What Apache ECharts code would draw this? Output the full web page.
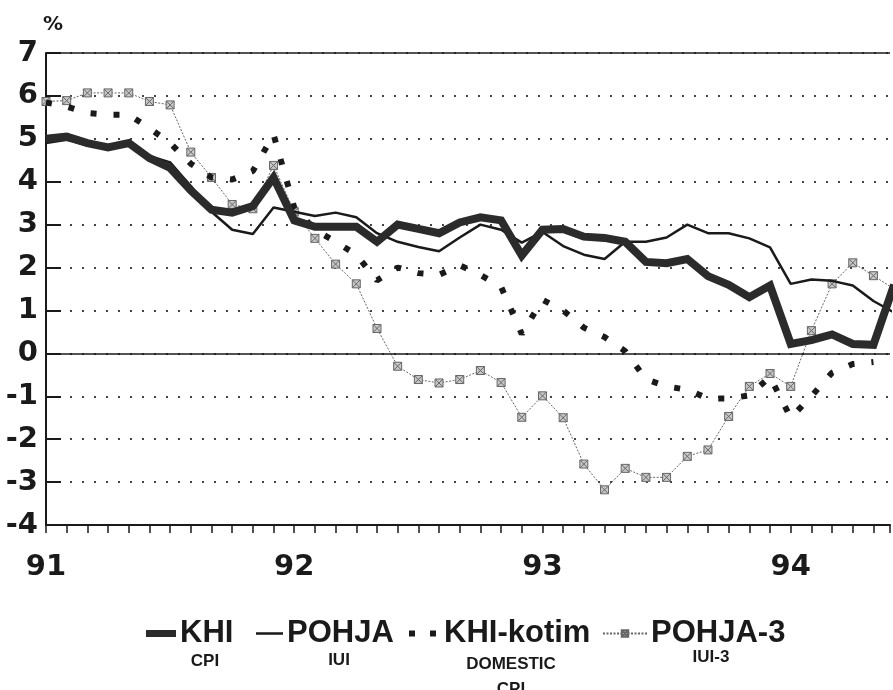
<!DOCTYPE html>
<html>
<head>
<meta charset="utf-8">
<title>KHI / POHJA</title>
<script src="https://cdn.jsdelivr.net/npm/echarts@6/dist/echarts.min.js"></script>
<style>
  html, body { margin: 0; padding: 0; background: #fff; }
  #chart_container { width: 893px; height: 690px; }
</style>
</head>
<body>
<div id="chart_container"></div>
<script>
  // kuukausittain, indeksi 0 = 1/91
  const yearLabels = ['91', '92', '93', '94']
  const seriesNames = ['KHI', 'POHJA', 'KHI-kotim', 'POHJA-3']
  const seriesNotes = ['CPI', 'IUI', 'DOMESTIC\nCPI', 'IUI-3']

  const khi = [5.0, 5.05, 4.9, 4.8, 4.9, 4.55, 4.32, 3.8, 3.35, 3.28, 3.43, 4.1,
    3.1, 2.95, 2.95, 2.95, 2.6, 3.0, 2.9, 2.8, 3.05, 3.17, 3.1, 2.28,
    2.88, 2.9, 2.72, 2.69, 2.6, 2.13, 2.1, 2.2, 1.8, 1.6, 1.31, 1.58,
    0.22, 0.31, 0.44, 0.22, 0.2, 1.6]
  const pohja = [4.9, 4.98, 4.85, 4.78, 4.9, 4.6, 4.45, 3.9, 3.3, 2.88, 2.78, 3.4,
    3.3, 3.2, 3.28, 3.17, 2.8, 2.6, 2.48, 2.38, 2.7, 3.0, 2.88, 2.58,
    2.83, 2.5, 2.3, 2.2, 2.6, 2.6, 2.7, 3.0, 2.8, 2.8, 2.68, 2.47,
    1.62, 1.72, 1.69, 1.58, 1.22, 0.95]
  const khiKotim = [5.85, 5.75, 5.6, 5.56, 5.56, 5.25, 4.9, 4.42, 4.1, 4.05, 4.25, 5.1,
    3.4, 2.88, 2.6, 2.3, 1.7, 2.0, 1.87, 1.83, 2.05, 1.83, 1.55, 0.45,
    1.25, 1.0, 0.6, 0.38, 0.05, -0.6, -0.77, -0.85, -1.05, -1.05, -0.98, -0.55,
    -1.5, -1.0, -0.45, -0.25, -0.2]
  const pohja3 = [5.87, 5.89, 6.07, 6.07, 6.07, 5.87, 5.79, 4.69, 4.1, 3.47, 3.37, 4.38,
    3.3, 2.68, 2.08, 1.62, 0.58, -0.3, -0.61, -0.69, -0.61, -0.4, -0.68, -1.49,
    -0.99, -1.5, -2.58, -3.18, -2.68, -2.89, -2.89, -2.4, -2.25, -1.47, -0.77, -0.47,
    -0.77, 0.53, 1.62, 2.11, 1.81, 1.5]

  const ink = '#1a1a1a'
  const numFont = 'DejaVu Sans'
  const legendFont = '"Liberation Sans", Arial, sans-serif'
  const crossBox = 'path://M0,0L10,0L10,10L0,10Z M0,0L10,10 M10,0L0,10'

  function pairs (arr) {
    return arr.map((v, i) => [i, v])
  }

  // legendan ikonit: 8px korkea laatikko, pienet pisteet kulmissa pitävät mittakaavan
  const box = (w) => 'path://M0,0L0.01,0Z M0,8L0.01,8Z M' + w + ',0L' + (w - 0.01) + ',0Z '
  const legendIcons = [
    box(30) + 'M0,0.5H30V7.5H0Z',
    box(27) + 'M0,2.8H27V5.2H0Z',
    box(34) + 'M3,1H9V7H3Z M24,1H30V7H24Z',
    null
  ]
  const legendLeft = [141, 251, 401, 597]
  const legendIconW = [30, 27, 34, 44]

  const legends = seriesNames.map((name, i) => ({
    data: [legendIcons[i] ? { name: name, icon: legendIcons[i] } : { name: name }],
    left: legendLeft[i],
    top: 613,
    itemWidth: legendIconW[i],
    itemHeight: 8,
    selectedMode: false,
    textStyle: { fontSize: 31, fontWeight: 'bold', fontFamily: legendFont, color: ink, padding: [0, 0, 0, -1] }
  }))

  // alaotsikot legendan alle
  const notePos = [[205, 649], [339, 648], [511, 652], [711, 645]]
  const notes = seriesNotes.map((t, i) => ({
    type: 'text',
    x: notePos[i][0],
    y: notePos[i][1],
    style: {
      text: t,
      font: 'bold 17px "Liberation Sans", sans-serif',
      fill: ink,
      align: 'center',
      verticalAlign: 'top',
      lineHeight: 25
    }
  }))

  const chart = echarts.init(document.getElementById('chart_container'))
  chart.setOption({
    animation: false,
    backgroundColor: '#fff',
    grid: { left: 46, right: 0, top: 53, bottom: 165 },
    legend: legends,
    graphic: notes,
    xAxis: {
      type: 'value',
      min: 0,
      max: 40.8,
      interval: 1,
      axisLine: { onZero: false, lineStyle: { color: ink, width: 2 } },
      axisTick: { inside: false, length: 8, lineStyle: { color: ink, width: 1.5 } },
      axisLabel: {
        formatter: v => (Math.round(v) % 12 === 0 && Math.abs(v - Math.round(v)) < 0.01) ? yearLabels[Math.round(v) / 12] : '',
        fontSize: 29,
        fontWeight: 'bold',
        fontFamily: numFont,
        color: ink,
        margin: 28
      },
      splitLine: { show: false }
    },
    yAxis: {
      type: 'value',
      min: -4,
      max: 7,
      interval: 1,
      name: '%',
      nameLocation: 'end',
      nameGap: 18,
      nameTextStyle: { align: 'left', fontSize: 20, fontWeight: 'bold', fontFamily: numFont, color: ink, padding: [0, 0, 0, -3] },
      axisLine: { show: true, onZero: false, lineStyle: { color: ink, width: 2 } },
      axisTick: { show: true, inside: true, length: 15, lineStyle: { color: ink, width: 2 } },
      axisLabel: { fontSize: 29, fontWeight: 'bold', fontFamily: numFont, color: ink, margin: 8 },
      splitLine: { show: true, lineStyle: { type: [2, 10], width: 2, color: '#444' } }
    },
    series: [{
      name: 'POHJA-3',
      type: 'line',
      data: pairs(pohja3),
      symbol: crossBox,
      symbolSize: 8,
      lineStyle: { color: '#666', width: 1, type: [2, 1.5] },
      itemStyle: { color: '#c8c8c8', borderColor: '#666', borderWidth: 1 },
      z: 2
    }, {
      name: 'KHI-kotim',
      type: 'line',
      data: pairs(khiKotim),
      symbol: 'none',
      lineStyle: { color: ink, width: 6, type: [6, 17], cap: 'butt' },
      itemStyle: { color: ink },
      z: 3
    }, {
      name: 'POHJA',
      type: 'line',
      data: pairs(pohja),
      symbol: 'none',
      lineStyle: { color: ink, width: 2.5 },
      itemStyle: { color: ink },
      z: 4
    }, {
      name: 'KHI',
      type: 'line',
      data: pairs(khi),
      symbol: 'none',
      lineStyle: { color: '#2b2b2b', width: 8, join: 'miter' },
      itemStyle: { color: '#2b2b2b' },
      z: 5,
      markLine: {
        silent: true,
        symbol: ['none', 'none'],
        label: { show: false },
        lineStyle: { color: ink, width: 1.5, type: 'solid' },
        data: [{ yAxis: 0 }, { yAxis: 7 }]
      }
    }]
  })
</script>
</body>
</html>
